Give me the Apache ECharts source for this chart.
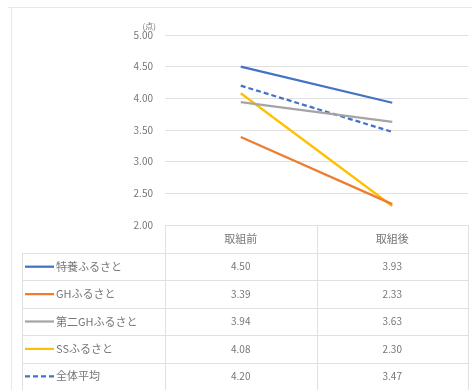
<!DOCTYPE html>
<html><head><meta charset="utf-8">
<script src="https://cdn.jsdelivr.net/npm/echarts@6/dist/echarts.min.js"></script>
<style>html,body{margin:0;padding:0;background:#fff}#c{width:472px;height:390px}</style>
</head><body><div id="c"></div>
<script>
const categories = ['取組前', '取組後'];
const seriesNames = ['特養ふるさと', 'GHふるさと', '第二GHふるさと', 'SSふるさと', '全体平均'];
const tokuyou = [4.50, 3.93];
const ghFurusato = [3.39, 2.33];
const daini = [3.94, 3.63];
const ssFurusato = [4.08, 2.30];
const zentai = [4.20, 3.47];
const yTicks = ['2.00','2.50','3.00','3.50','4.00','4.50','5.00'];
const unitLabel = '(点)';

const values = [tokuyou, ghFurusato, daini, ssFurusato, zentai];
const colors = ['#4472C4', '#ED7D31', '#A5A5A5', '#FFC000', '#4472C4'];
const dashed = [false, false, false, false, true];
const FONT = '"Noto Sans CJK JP", "Noto Sans", sans-serif';
const TXT = '#767676';

const chart = echarts.init(document.getElementById('c'), null, {renderer: 'canvas'});
const gridLeft = 165, gridRight = 4, gridTop = 35, gridBottom = 165;

chart.setOption({
  animation: false,
  backgroundColor: '#fff',
  grid: {left: gridLeft, right: gridRight, top: gridTop, bottom: gridBottom},
  xAxis: {
    type: 'category', data: categories, boundaryGap: true,
    axisLine: {show: false}, axisTick: {show: false},
    axisLabel: {color: TXT, fontSize: 11, fontFamily: FONT, margin: 8}
  },
  yAxis: {
    type: 'value', min: 2, max: 5, interval: 0.5,
    name: unitLabel, nameLocation: 'end', nameGap: 3,
    nameTextStyle: {color: TXT, fontSize: 8, fontFamily: FONT, align: 'right', padding: [0, 9, 0, 0]},
    axisLine: {show: false}, axisTick: {show: false},
    splitLine: {lineStyle: {color: '#E0E0E0', width: 1}},
    axisLabel: {color: TXT, fontSize: 10, fontFamily: FONT, margin: 12,
      formatter: v => yTicks[Math.round((v - 2) / 0.5)] }
  },
  series: values.map((d, i) => ({
    name: seriesNames[i], type: 'line', data: d,
    symbol: 'none', z: 10 - i,
    lineStyle: {color: colors[i], width: 2.25, type: dashed[i] ? [5, 3] : 'solid'}
  }))
});

// data table drawn from the same arrays
const xs = categories.map((c) => chart.convertToPixel({xAxisIndex: 0}, c));
const y0 = chart.convertToPixel({yAxisIndex: 0}, 2);
const xR = 472 - gridRight;
const headerH = 28, rowH = 27.4;
const lineC = '#E0E0E0';
const g = [];
// outer chart border
g.push({type: 'line', shape: {x1: 8, y1: 7.5, x2: 472, y2: 7.5}, style: {stroke: '#E8E8E8', lineWidth: 1}, silent: true});
g.push({type: 'line', shape: {x1: 11.5, y1: 7, x2: 11.5, y2: 390}, style: {stroke: '#E8E8E8', lineWidth: 1}, silent: true});
const tableLeft = 22;
const colMid = (xs[0] + xs[1]) / 2;
const firstRowTop = y0 + headerH;
[gridLeft, colMid, xR].forEach(x => {
  g.push({type: 'line', shape: {x1: Math.round(x) + 0.5, y1: y0, x2: Math.round(x) + 0.5, y2: 390}, style: {stroke: lineC, lineWidth: 1}, silent: true});
});
g.push({type: 'line', shape: {x1: tableLeft + 0.5, y1: firstRowTop, x2: tableLeft + 0.5, y2: 390}, style: {stroke: lineC, lineWidth: 1}, silent: true});
for (let r = 0; r <= values.length; r++) {
  const y = Math.round(firstRowTop + r * rowH) + 0.5;
  g.push({type: 'line', shape: {x1: tableLeft, y1: y, x2: xR, y2: y}, style: {stroke: lineC, lineWidth: 1}, silent: true});
}
values.forEach((d, i) => {
  const cy = firstRowTop + i * rowH + rowH / 2;
  g.push({type: 'line', shape: {x1: 25, y1: cy, x2: 54, y2: cy},
    style: {stroke: colors[i], lineWidth: 2.25, lineDash: dashed[i] ? [5, 3] : null}, silent: true});
  g.push({type: 'text', x: 56, y: cy, style: {text: seriesNames[i], fill: TXT, font: '11px ' + FONT, textVerticalAlign: 'middle', verticalAlign: 'middle'}, silent: true});
  d.forEach((v, j) => {
    g.push({type: 'text', x: xs[j], y: cy, style: {text: v.toFixed(2), fill: TXT, font: '10px ' + FONT, align: 'center', textAlign: 'center', verticalAlign: 'middle', textVerticalAlign: 'middle'}, silent: true});
  });
});
chart.setOption({graphic: g});
</script></body></html>
